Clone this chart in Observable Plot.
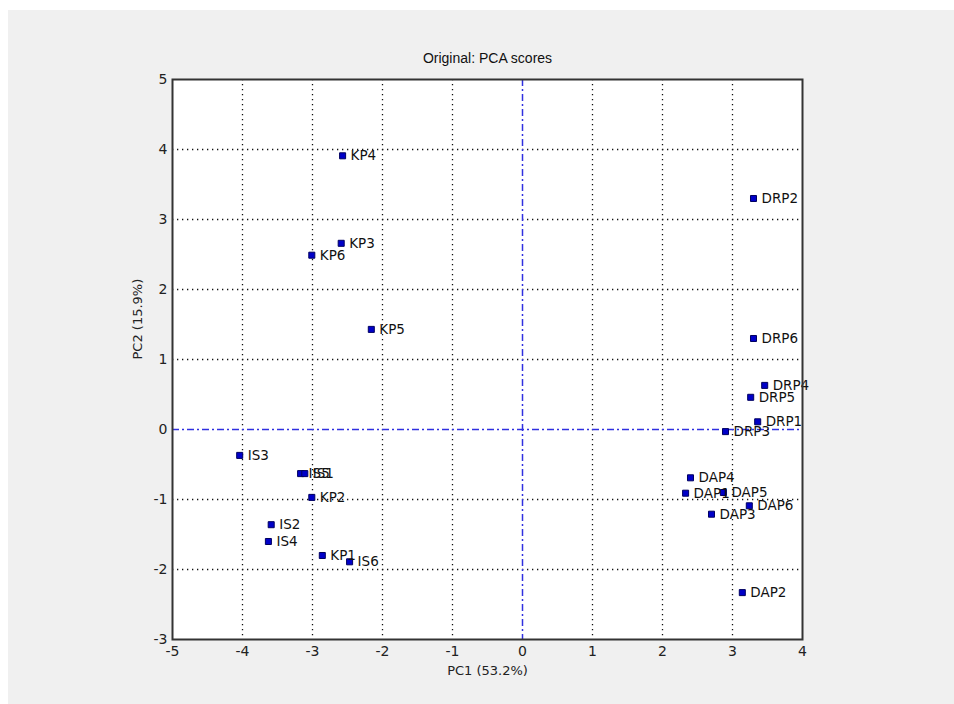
<!DOCTYPE html>
<html>
<head>
<meta charset="utf-8">
<script src="https://cdn.jsdelivr.net/npm/d3@7"></script>
<script src="https://cdn.jsdelivr.net/npm/@observablehq/plot@0.6"></script>
<style>
  html, body { margin: 0; padding: 0; background: #ffffff; }
  #wrap { position: relative; width: 954px; height: 704px; overflow: hidden; }
  #bg { position: absolute; left: 8px; top: 10px; right: 0; bottom: 0; background: #f0f0f0; }
  #chart { position: absolute; left: 0; top: 0; }
</style>
</head>
<body>
<div id="wrap"><div id="bg"></div><div id="chart"></div></div>
<script>
const labels = ["KP4","KP3","KP6","KP5","DRP2","DRP6","DRP4","DRP5","DRP1","DRP3",
                "IS3","IS5","IS1","KP2","IS2","IS4","KP1","IS6",
                "DAP4","DAP1","DAP5","DAP6","DAP3","DAP2"];
const pc1 = [-2.57,-2.59,-3.01,-2.16,3.30,3.30,3.46,3.26,3.36,2.90,
             -4.04,-3.17,-3.11,-3.01,-3.59,-3.63,-2.86,-2.47,
             2.40,2.33,2.87,3.24,2.70,3.14];
const pc2 = [3.91,2.66,2.49,1.43,3.30,1.30,0.63,0.46,0.11,-0.03,
             -0.37,-0.63,-0.63,-0.97,-1.36,-1.60,-1.80,-1.89,
             -0.69,-0.91,-0.90,-1.09,-1.21,-2.33];
const xTicks = [-5,-4,-3,-2,-1,0,1,2,3,4];
const yTicks = [-3,-2,-1,0,1,2,3,4,5];
const gridX = [-4,-3,-2,-1,1,2,3];
const gridY = [-2,-1,1,2,3,4];
const titleText = "Original: PCA scores";
const xLabel = "PC1 (53.2%)";
const yLabel = "PC2 (15.9%)";

const data = labels.map((l, i) => ({label: l, x: pc1[i], y: pc2[i]}));

const chart = Plot.plot({
  width: 954,
  height: 704,
  marginLeft: 172,
  marginRight: 152,
  marginTop: 79,
  marginBottom: 65,
  style: {background: "transparent", fontFamily: "DejaVu Sans", fontSize: "14px", color: "#222"},
  x: {domain: [-5, 4]},
  y: {domain: [-3, 5]},
  marks: [
    Plot.frame({fill: "white", stroke: null}),
    Plot.ruleX(gridX, {stroke: "#111", strokeWidth: 1.3, strokeDasharray: "1.3,3.7"}),
    Plot.ruleY(gridY, {stroke: "#111", strokeWidth: 1.3, strokeDasharray: "1.3,3.7"}),
    Plot.ruleX([0], {stroke: "#3030e0", strokeWidth: 1.5, strokeDasharray: "7,3,2,3"}),
    Plot.ruleY([0], {stroke: "#3030e0", strokeWidth: 1.5, strokeDasharray: "7,3,2,3"}),
    Plot.axisX({ticks: xTicks, tickSize: 0, tickPadding: 7, tickFormat: d => String(d), label: null, fontSize: 14, fill: "#222"}),
    Plot.axisY({ticks: yTicks, tickSize: 0, tickPadding: 5, tickFormat: d => String(d), label: null, fontSize: 14, fill: "#222"}),
    Plot.dot(data, {x: "x", y: "y", symbol: "square", r: 3.4, fill: "#0000c8", stroke: "#000060", strokeWidth: 1}),
    Plot.text(data, {x: "x", y: "y", text: "label", textAnchor: "start", dx: 8, fontSize: 13.5, fill: "#111", fontFamily: "DejaVu Sans"}),
    Plot.frame({stroke: "#333", strokeWidth: 2}),
    Plot.text([titleText], {frameAnchor: "top", dy: -21, lineAnchor: "middle", fontSize: 14, fontFamily: "Liberation Sans, sans-serif", fill: "#111"}),
    Plot.text([xLabel], {frameAnchor: "bottom", dy: 31, lineAnchor: "middle", fontSize: 13, fill: "#222", fontFamily: "DejaVu Sans"}),
    Plot.text([yLabel], {frameAnchor: "left", dx: -35, rotate: -90, lineAnchor: "middle", fontSize: 13, fill: "#222", fontFamily: "DejaVu Sans"})
  ]
});
document.getElementById("chart").appendChild(chart);
</script>
</body>
</html>
